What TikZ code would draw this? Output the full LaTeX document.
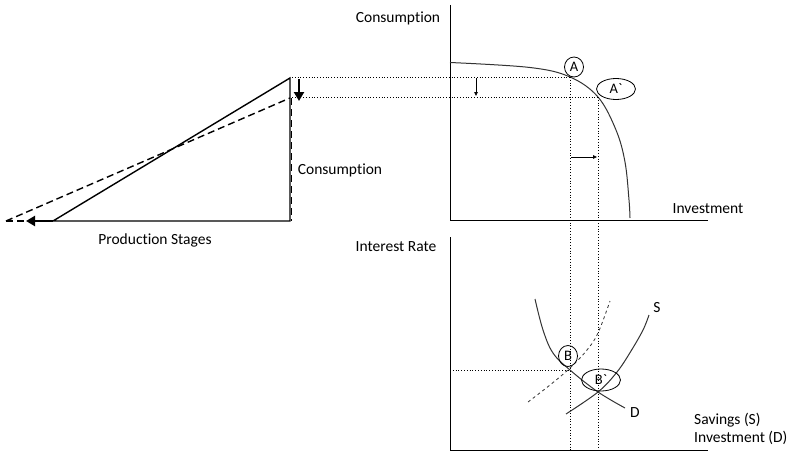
\documentclass[tikz,border=0pt]{standalone}
\usepackage{fontspec}
\newfontfamily\cf[Ligatures=NoCommon]{Carlito}
\usetikzlibrary{arrows.meta,shapes.geometric}
\begin{document}
\begin{tikzpicture}[x=1pt,y=-1pt,font=\cf\fontsize{15.5}{18}\selectfont,
  axis/.style={line width=0.9pt},
  curve/.style={line width=1pt,black!80},
  guide/.style={dotted,line width=0.8pt},
  tri/.style={line width=1.4pt},
  tridash/.style={line width=1.4pt,dash pattern=on 7pt off 4pt},
  bigarrow/.style={line width=2.2pt,-{Triangle[width=10pt,length=9pt]}},
  smallarrow/.style={line width=0.8pt,-{Triangle[width=3.5pt,length=4pt]}},
  lab/.style={inner sep=1pt},
  ring/.style={draw,ellipse,line width=0.8pt,inner sep=0pt,font=\cf\fontsize{14.5}{16}\selectfont}]
\useasboundingbox (0,0) rectangle (800,460);
% ---------- left triangle ----------
\coordinate (L0) at (53,221);
\coordinate (LR) at (290,221);
\coordinate (LT) at (290,78);
\coordinate (LD) at (290,98);
\coordinate (LD0) at (6,221);
\draw[tri] (L0) -- (LR) -- (LT) -- cycle;
\draw[tridash] (LD0) -- (LD);
\draw[tridash] (LD0) -- (L0);
\draw[line width=1pt,dash pattern=on 7pt off 4pt] (291.3,98) -- (291.3,221);
\coordinate (da1) at (299,79);
\coordinate (da2) at (299,101);
\draw[bigarrow] (da1) -- (da2);
\coordinate (la1) at (50,221);
\coordinate (la2) at (26,221);
\draw[bigarrow] (la1) -- (la2);
\node[lab] (lcons) at (340,170) {Consumption};
\node[lab] (prod) at (155,240) {Production Stages};
% ---------- top chart ----------
\coordinate (O1) at (450,220);
\coordinate (Y1) at (450,5);
\coordinate (X1) at (708,220);
\draw[axis] (Y1) -- (O1) -- (X1);
\node[lab] (cons) at (398,18) {Consumption};
\node[lab] (inv) at (708,209) {Investment};
\coordinate (A) at (570,77);
\coordinate (Ap) at (598,97);
\draw[curve] plot[smooth,tension=0.6] coordinates {(450,62.5) (530,67.5) (570,77) (598,97) (616,130) (625,162) (629,200) (630,218)};
\node[ring,minimum width=19pt,minimum height=20pt] (cA) at (574,67) {A};
\node[ring,minimum width=39pt,minimum height=21pt] (cAp) at (616,89) {A`};
\coordinate (g1) at (292,77);
\coordinate (g2) at (292,97);
\draw[guide] (g1) -- (A);
\draw[guide] (g2) -- (Ap);
\coordinate (vA) at (570,450);
\coordinate (vAp) at (598,450);
\draw[guide] (A) -- (vA);
\draw[guide] (Ap) -- (vAp);
\coordinate (sa1) at (476,78);
\coordinate (sa2) at (476,96);
\draw[smallarrow] (sa1) -- (sa2);
\coordinate (ha1) at (571,157);
\coordinate (ha2) at (597,157);
\draw[smallarrow] (ha1) -- (ha2);
% ---------- bottom chart ----------
\coordinate (O2) at (450,450);
\coordinate (Y2) at (450,237);
\coordinate (X2) at (708,450);
\draw[axis] (Y2) -- (O2) -- (X2);
\node[lab] (ir) at (396,247) {Interest Rate};
\node[lab,anchor=west] (sav) at (693,420) {Savings (S)};
\node[lab,anchor=west] (invd) at (693,438) {Investment (D)};
\coordinate (B) at (570,370);
\coordinate (Bp) at (598,392);
\draw[curve] plot[smooth,tension=0.6] coordinates {(535,299) (543,330) (553,353) (570,370) (598,392) (625,408)};
\draw[curve] plot[smooth,tension=0.6] coordinates {(566,414) (598,392) (617,372) (631,351) (643,330) (649,315)};
\draw[curve,dashed,line width=0.8pt] plot[smooth,tension=0.6] coordinates {(528,402) (550,385) (570,368) (587,350) (598,333) (610,301)};
\node[lab] (S) at (657,308) {S};
\node[lab] (D) at (635,413) {D};
\node[ring,minimum width=19pt,minimum height=21pt] (cB) at (568,356) {B};
\node[ring,minimum width=39pt,minimum height=22pt] (cBp) at (601,380) {B`};
\coordinate (g3) at (450,370);
\draw[guide] (g3) -- (B);
\end{tikzpicture}
\end{document}
